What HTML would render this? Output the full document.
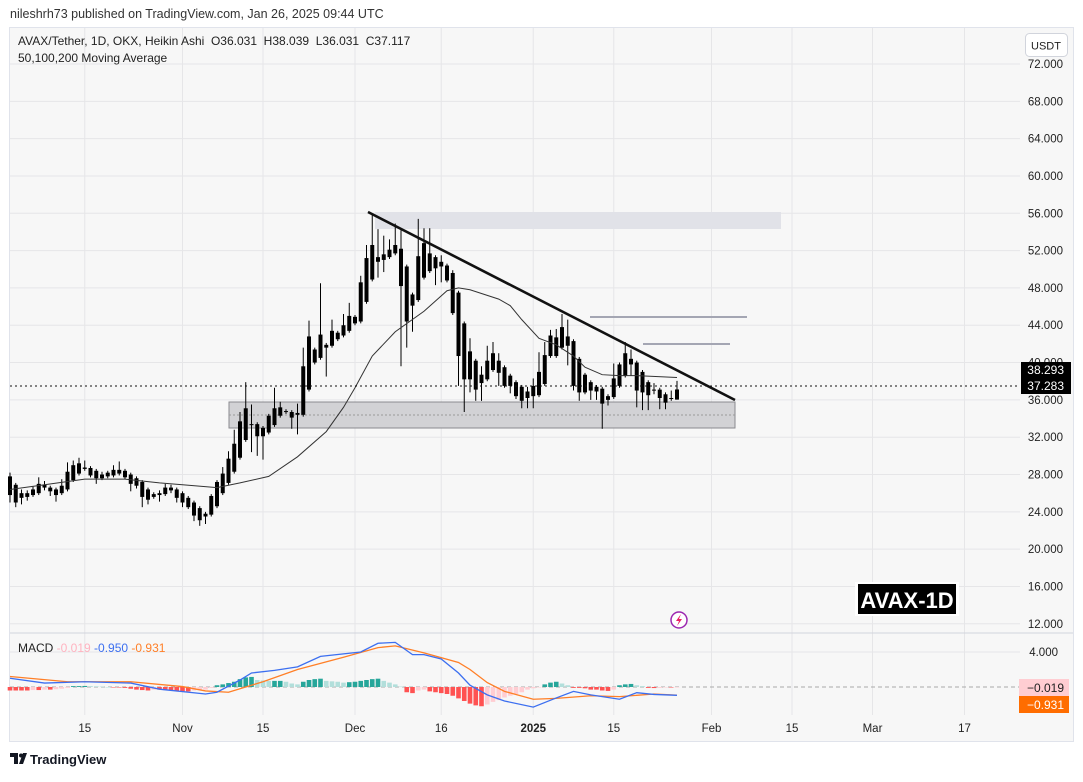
<!DOCTYPE html>
<html><head><meta charset="utf-8"><style>
html,body{margin:0;padding:0;background:#fff;}
body{width:1083px;height:777px;overflow:hidden;font-family:"Liberation Sans",sans-serif;}
svg text{font-family:"Liberation Sans",sans-serif;}
</style></head><body>
<svg id="chart" width="1083" height="777" viewBox="0 0 1083 777" xmlns="http://www.w3.org/2000/svg">
<text x="10" y="18" font-size="12.5" fill="#333">nileshrh73 published on TradingView.com, Jan 26, 2025 09:44 UTC</text>
<rect x="9.5" y="27.5" width="1064" height="714" fill="#f7f7f7" stroke="#e0e3eb"/>
<g id="grid"></g>
<rect x="375" y="212" width="406" height="17" fill="#e1e2e8"/>
<rect x="229" y="402" width="506" height="26" fill="#d2d2d5" stroke="#8a8a8f" stroke-width="1"/>
<line x1="229" y1="415" x2="735" y2="415" stroke="#999" stroke-dasharray="2,2"/>
<line x1="590" y1="317" x2="747" y2="317" stroke="#a4a6b3" stroke-width="2"/>
<line x1="643" y1="344" x2="730" y2="344" stroke="#a4a6b3" stroke-width="2"/>
<g id="candles"></g>
<polyline id="ma" fill="none" stroke="#333" stroke-width="1"/>
<line x1="368" y1="212" x2="735" y2="400" stroke="#111" stroke-width="2.6"/>
<line x1="10" y1="386" x2="1020" y2="386" stroke="#111" stroke-dasharray="2,3"/>
<line x1="10" y1="633" x2="1073" y2="633" stroke="#d1d4dc"/>
<line x1="10" y1="687" x2="1020" y2="687" stroke="#aaa" stroke-dasharray="4,3"/>
<g id="hist"></g>
<polyline id="signal" fill="none" stroke="#ff7f27" stroke-width="1.3"/>
<polyline id="macd" fill="none" stroke="#3c6ff0" stroke-width="1.3"/>
<g id="yaxis"></g>
<g id="xaxis"></g>
<text x="18" y="45" font-size="12" fill="#222">AVAX/Tether, 1D, OKX, Heikin Ashi&#160; O36.031&#160; H38.039&#160; L36.031&#160; C37.117</text>
<text x="18" y="62" font-size="12" fill="#222">50,100,200 Moving Average</text>
<g><rect x="1025.5" y="33.5" width="42" height="23" rx="4" fill="#fff" stroke="#d1d4dc"/><text x="1046" y="49.5" font-size="11" text-anchor="middle" fill="#222">USDT</text></g>
<g><rect x="1021" y="362" width="50" height="16" fill="#000"/><text x="1064" y="374" font-size="12" text-anchor="end" fill="#fff">38.293</text></g>
<g><rect x="1021" y="378" width="50" height="16" fill="#000"/><text x="1064" y="390" font-size="12" text-anchor="end" fill="#fff">37.283</text></g>
<g><rect x="855" y="582" width="104" height="34" fill="#fff"/><rect x="858" y="584" width="98" height="30" fill="#000"/><text x="907" y="608" font-size="22" font-weight="bold" text-anchor="middle" fill="#fff">AVAX-1D</text></g>
<g><circle cx="679" cy="620" r="8" fill="#fff" stroke="#9c27b0" stroke-width="1.5"/><path d="M681 614 L676 621 L679 621 L677 626 L682 619 L679 619 Z" fill="#e91e63"/></g>
<text x="18" y="652" font-size="12" fill="#222">MACD <tspan fill="#ffb3c0">-0.019</tspan> <tspan fill="#3c6ff0">-0.950</tspan> <tspan fill="#ff7f27">-0.931</tspan></text>
<g><rect x="1019" y="679" width="50" height="17" fill="#ffcdd2"/><text x="1064" y="692" font-size="12" text-anchor="end" fill="#222">−0.019</text></g>
<g><rect x="1019" y="696" width="50" height="17" fill="#ff6d00"/><text x="1064" y="709" font-size="12" text-anchor="end" fill="#fff">−0.931</text></g>
<g><path d="M10 753 h8 v11 h-4 v-7 h-4z M19 764 l4 -11 h4 l-4 11z" fill="#131722"/><circle cx="21" cy="755.5" r="2" fill="#131722"/><text x="30" y="764" font-size="13" font-weight="bold" fill="#131722">TradingView</text></g>
</svg>
<script>
const openP=[25.8,25.0,25.5,25.6,25.8,26.0,26.6,26.2,25.8,26.0,26.4,27.4,28.1,28.6,27.9,27.6,27.6,27.8,27.9,28.1,27.7,27.0,26.8,25.6,25.3,25.6,25.8,25.9,26.3,25.5,25.0,24.5,23.6,23.1,23.5,23.7,24.6,26.0,27.1,28.3,29.8,31.7,33.3,32.1,32.1,32.5,33.3,34.3,34.7,34.1,34.4,34.4,37.1,40.0,40.5,41.6,41.8,42.5,42.9,43.4,44.2,44.4,46.5,48.9,50.8,51.0,51.3,51.7,48.2,44.4,46.1,46.7,49.1,49.8,50.1,50.3,48.8,45.3,40.7,38.2,38.2,37.1,37.8,38.2,39.2,38.9,37.5,37.5,36.4,35.9,36.2,36.4,36.5,37.7,40.7,40.7,41.6,41.8,37.5,36.8,36.8,37.0,36.9,35.6,36.0,36.3,37.5,38.6,39.8,37.0,36.8,36.5,37.0,36.2,35.7,36.1,36.031];
const closeP=[27.8,26.9,26.0,26.0,26.4,27.0,26.9,26.6,26.4,26.8,28.3,29.0,29.2,28.75,28.7,28.4,28.0,28.2,28.5,28.5,28.4,28.0,27.6,27.2,26.4,25.9,26.0,26.6,26.6,26.4,26.0,25.5,25.0,24.4,23.8,25.7,27.2,28.1,29.7,31.3,33.7,35.1,33.4,33.4,33.0,34.3,35.1,35.2,34.8,34.7,34.6,39.6,42.8,41.4,43.0,41.9,43.4,43.2,44.0,45.0,44.9,48.6,51.2,52.6,51.3,51.6,52.1,52.6,52.2,50.3,47.3,51.4,52.8,51.7,51.3,50.8,50.4,49.6,47.5,44.2,41.2,40.2,38.7,40.2,41.0,40.2,39.5,38.6,37.9,37.4,36.9,37.5,39.0,40.8,42.9,42.7,43.8,42.8,42.3,40.4,38.7,37.9,37.4,37.2,36.4,38.3,39.8,41.0,40.4,40.0,39.0,37.9,37.1,37.1,36.6,36.2,37.117];
const highP=[28.2,27.1,26.4,26.3,26.7,27.7,27.3,26.8,26.6,27.5,29.3,29.5,29.8,29.5,28.9,28.6,28.3,28.4,29.0,29.4,28.6,28.2,27.8,27.4,26.6,26.1,26.3,27.0,26.9,26.6,26.2,25.7,25.2,24.6,24.0,25.9,27.4,28.8,30.5,32.8,34.7,37.9,35.5,33.6,33.2,34.5,37.3,35.8,35.0,34.9,35.6,41.6,44.5,41.6,48.5,42.1,44.6,43.4,45.2,46.4,45.1,49.3,52.6,55.8,54.3,53.6,53.2,54.9,54.2,50.5,47.5,55.4,54.4,54.4,51.5,51.5,50.6,49.9,47.7,44.4,42.6,40.4,39.6,41.8,42.2,41.0,39.7,38.8,38.1,37.6,37.4,38.3,41.1,42.2,43.5,43.6,45.2,44.6,42.5,40.6,38.9,38.1,37.6,37.4,36.6,39.9,40.0,42.2,41.4,40.2,39.2,38.1,37.8,37.3,36.8,37.0,38.039];
const lowP=[25.0,24.5,24.8,25.2,25.6,25.8,26.3,25.7,25.1,25.8,26.2,27.2,27.9,28.4,27.7,27.0,27.4,27.6,27.7,27.9,27.5,26.2,26.5,24.5,24.8,25.4,25.1,25.7,26.0,25.0,24.5,24.3,23.0,22.5,22.7,23.5,24.4,25.8,26.9,28.1,29.6,31.5,30.4,30.0,29.6,32.3,33.1,34.1,34.5,32.9,32.3,34.2,36.9,39.8,40.3,38.5,41.6,42.3,42.7,43.2,44.0,44.2,46.3,48.7,49.1,49.7,51.1,51.5,39.6,41.6,43.3,46.5,48.9,49.6,48.3,48.6,48.6,45.1,37.5,34.7,36.8,35.9,35.9,38.0,39.0,37.5,37.3,36.7,36.1,35.1,35.1,35.1,36.3,37.5,40.5,40.5,41.4,39.7,37.0,35.9,36.6,36.0,36.0,32.9,35.4,36.1,37.3,38.4,38.6,35.2,34.9,34.9,36.6,35.0,35.0,35.9,36.031];
const maIdx=[0,6,13,20,26,30,36,40,45,50,55,58,60,63,67,72,76,78,80,82,85,87,89,92,95,98,100,103,106,109,116];
const maVal=[26.4,26.9,27.5,27.5,27.1,26.9,26.6,27.1,27.8,29.9,32.6,35.2,37.3,40.7,43.3,45.5,47.7,48.0,47.8,47.4,46.8,46.1,44.6,42.6,41.9,40.7,39.5,38.7,38.6,38.6,38.4];
const macdIdx=[0,6,13,21,26,34,36,40,42,46,50,54,61,64,67,70,72,75,78,80,83,86,91,95,98,101,106,109,112,116];
const macdVal=[1.0,0.45,0.6,0.45,-0.25,-0.8,-0.6,0.8,1.6,1.9,2.3,3.5,4.0,5.0,5.1,3.7,3.7,3.2,1.6,0.2,-0.9,-1.6,-2.3,-1.25,-0.5,-0.9,-1.4,-0.65,-0.85,-0.95];
const sigIdx=[0,10,21,30,34,38,44,50,58,64,67,72,78,80,83,86,91,95,101,106,112,116];
const sigVal=[1.2,0.6,0.6,0.05,-0.45,-0.6,0.6,2.0,3.4,4.5,4.7,3.9,2.8,2.0,0.5,-0.5,-1.4,-1.3,-1.0,-1.1,-0.8,-0.931];
const histVal=[-0.4,-0.4,-0.4,-0.4,-0.35,-0.35,-0.3,-0.3,-0.25,-0.2,-0.1,0.1,0.1,0.12,0.1,0.08,0.05,0,-0.05,-0.05,-0.1,-0.2,-0.3,-0.35,-0.4,-0.3,-0.3,-0.35,-0.4,-0.45,-0.5,-0.5,-0.4,-0.35,-0.3,-0.1,0.2,0.3,0.45,0.6,0.9,1.1,1.15,0.8,0.75,0.7,0.7,0.7,0.6,0.4,0.3,0.6,0.8,0.9,0.95,0.7,0.65,0.6,0.5,0.55,0.6,0.7,0.8,0.9,0.95,0.7,0.5,0.3,0.05,-0.6,-0.7,-0.4,-0.3,-0.5,-0.6,-0.7,-0.8,-1.0,-1.3,-1.6,-1.9,-2.1,-2.2,-2.0,-1.7,-1.5,-1.2,-1.0,-0.8,-0.6,-0.3,-0.15,-0.05,0.3,0.5,0.6,0.4,0.2,-0.1,-0.1,-0.15,-0.3,-0.3,-0.4,-0.45,-0.3,0.2,0.3,0.35,0.2,0.1,-0.1,-0.12,-0.1,-0.05,-0.05,-0.02];
const priceTicks=[72,68,64,60,56,52,48,44,40,36,32,28,24,20,16,12];
const dateLabels=["15","Nov","15","Dec","16","2025","15","Feb","15","Mar","17"];
const dateDay=[13,30,44,60,75,91,105,122,136,150,166];
const macdTicks=[4];

const NS="http://www.w3.org/2000/svg";
const X=i=>10+i*5.75;
const Y=p=>64+(72-p)*9.33;
const MY=v=>687-v*8.75;
function mk(tag,attrs,parent){const e=document.createElementNS(NS,tag);for(const k in attrs)e.setAttribute(k,attrs[k]);parent.appendChild(e);return e;}
const grid=document.getElementById('grid');
priceTicks.forEach(p=>{const l=mk('line',{x1:10,x2:1020,y1:Y(p),y2:Y(p),stroke:'#e6e6e8'},grid);

});
dateDay.forEach(d=>{const l=mk('line',{x1:X(d),x2:X(d),y1:28,y2:715,stroke:'#e6e6e8'},grid);

});
macdTicks.forEach(v=>{const l=mk('line',{x1:10,x2:1020,y1:MY(v),y2:MY(v),stroke:'#e6e6e8'},grid);

});
const ya=document.getElementById('yaxis');
priceTicks.forEach(p=>{const t=mk('text',{x:1063,y:Y(p)+4,'font-size':11.5,'text-anchor':'end',fill:'#222'},ya);t.textContent=p.toFixed(3);

});
macdTicks.forEach(v=>{const t=mk('text',{x:1058,y:MY(v)+4,'font-size':11.5,'text-anchor':'end',fill:'#222'},ya);t.textContent=v.toFixed(3);

});
const xa=document.getElementById('xaxis');
dateLabels.forEach((s,k)=>{const t=mk('text',{x:X(dateDay[k]),y:732,'font-size':11.5,'text-anchor':'middle',fill:'#222','font-weight':s==='2025'?'bold':'normal'},xa);t.textContent=s;

});
const cg=document.getElementById('candles');
closeP.forEach((c,i)=>{const o=openP[i];const x=X(i);
const w=mk('line',{x1:x,x2:x,y1:Y(highP[i]),y2:Y(lowP[i]),stroke:'#000','stroke-width':1},cg);


const top=Y(Math.max(o,c)),bot=Y(Math.min(o,c));
const b=mk('rect',{x:x-2,y:top,width:4,height:Math.max(1,bot-top),fill:'#000'},cg);

});
document.getElementById('ma').setAttribute('points',maIdx.map((d,k)=>X(d)+','+Y(maVal[k])).join(' '));
document.getElementById('macd').setAttribute('points',macdIdx.map((d,k)=>X(d)+','+MY(macdVal[k])).join(' '));
document.getElementById('signal').setAttribute('points',sigIdx.map((d,k)=>X(d)+','+MY(sigVal[k])).join(' '));
const hg=document.getElementById('hist');
histVal.forEach((v,i)=>{const prev=i>0?histVal[i-1]:0;let col;
if(v>=0)col=v>=prev?'#26a69a':'#b2dfdb';else col=v<=prev?'#ff5252':'#ffcdd2';
const y0=MY(0),y1=MY(v);
const r=mk('rect',{x:X(i)-2.3,y:Math.min(y0,y1),width:4.6,height:Math.max(0.5,Math.abs(y1-y0)),fill:col},hg);

});
</script>
</body></html>
